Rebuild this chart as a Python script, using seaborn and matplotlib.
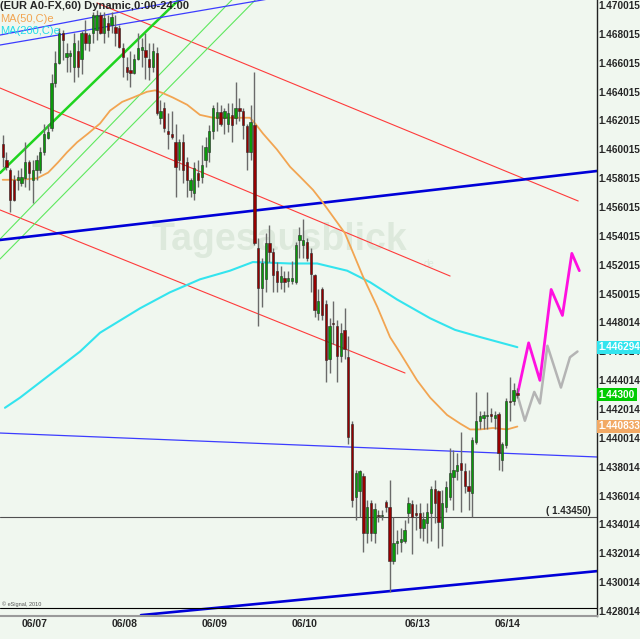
import matplotlib
matplotlib.use("Agg")
import matplotlib.pyplot as plt
import matplotlib.transforms as mtransforms
import numpy as np
import seaborn as sns

# hourly EUR/USD bars, 06/06 evening .. 06/14 morning
opens = [1.4604, 1.4593, 1.4586, 1.4579, 1.4579, 1.4577, 1.4580, 1.4591, 1.4579, 1.4586,
         1.4586, 1.4598, 1.4608, 1.4615, 1.4646, 1.4660, 1.4681, 1.4664, 1.4665, 1.4657,
         1.4668, 1.4663, 1.4681, 1.4674, 1.4681, 1.4683, 1.4693, 1.4681, 1.4688, 1.4686,
         1.4685, 1.4684, 1.4670, 1.4657, 1.4655, 1.4653, 1.4663, 1.4669, 1.4669, 1.4663,
         1.4657, 1.4667, 1.4622, 1.4629, 1.4613, 1.4611, 1.4605, 1.4593, 1.4605, 1.4591,
         1.4572, 1.4570, 1.4584, 1.4581, 1.4593, 1.4598, 1.4613, 1.4622, 1.4626, 1.4622,
         1.4618, 1.4624, 1.4622, 1.4629, 1.4627, 1.4616, 1.4598, 1.4617, 1.4532, 1.4504,
         1.4510, 1.4535, 1.4529, 1.4516, 1.4508, 1.4511, 1.4509, 1.4509, 1.4508, 1.4537,
         1.4534, 1.4536, 1.4528, 1.4513, 1.4487, 1.4503, 1.4493, 1.4455, 1.4480, 1.4478,
         1.4457, 1.4475, 1.4456, 1.4410, 1.4359, 1.4363, 1.4374, 1.4334, 1.4355, 1.4334,
         1.4347, 1.4346, 1.4356, 1.4352, 1.4315, 1.4327, 1.4328, 1.4329, 1.4348, 1.4354,
         1.4348, 1.4348, 1.4338, 1.4341, 1.4348, 1.4365, 1.4363, 1.4338, 1.4352, 1.4359,
         1.4373, 1.4377, 1.4383, 1.4377, 1.4367, 1.4362, 1.4397, 1.4412, 1.4414, 1.4415,
         1.4417, 1.4414, 1.4417, 1.4385, 1.4395, 1.4426, 1.4426, 1.4431]
highs = [1.4610, 1.4598, 1.4587, 1.4582, 1.4586, 1.4587, 1.4605, 1.4593, 1.4593, 1.4596,
         1.4602, 1.4618, 1.4618, 1.4652, 1.4668, 1.4684, 1.4683, 1.4674, 1.4669, 1.4681,
         1.4676, 1.4682, 1.4690, 1.4681, 1.4695, 1.4697, 1.4695, 1.4695, 1.4693, 1.4695,
         1.4693, 1.4686, 1.4674, 1.4664, 1.4668, 1.4666, 1.4681, 1.4677, 1.4681, 1.4674,
         1.4674, 1.4671, 1.4634, 1.4633, 1.4625, 1.4627, 1.4618, 1.4607, 1.4611, 1.4595,
         1.4580, 1.4591, 1.4593, 1.4603, 1.4609, 1.4617, 1.4631, 1.4633, 1.4631, 1.4629,
         1.4632, 1.4632, 1.4647, 1.4636, 1.4629, 1.4618, 1.4631, 1.4654, 1.4539, 1.4525,
         1.4542, 1.4548, 1.4532, 1.4522, 1.4519, 1.4516, 1.4516, 1.4523, 1.4536, 1.4546,
         1.4552, 1.4539, 1.4532, 1.4514, 1.4503, 1.4505, 1.4496, 1.4483, 1.4495, 1.4482,
         1.4480, 1.4490, 1.4471, 1.4412, 1.4378, 1.4378, 1.4376, 1.4357, 1.4357, 1.4355,
         1.4350, 1.4350, 1.4357, 1.4371, 1.4345, 1.4336, 1.4338, 1.4343, 1.4359, 1.4357,
         1.4354, 1.4355, 1.4349, 1.4355, 1.4367, 1.4371, 1.4364, 1.4364, 1.4370, 1.4393,
         1.4392, 1.4390, 1.4404, 1.4383, 1.4378, 1.4401, 1.4432, 1.4419, 1.4419, 1.4432,
         1.4421, 1.4419, 1.4418, 1.4397, 1.4428, 1.4442, 1.4438, 1.4435]
lows = [1.4588, 1.4586, 1.4557, 1.4564, 1.4572, 1.4575, 1.4574, 1.4572, 1.4563, 1.4579,
        1.4584, 1.4596, 1.4607, 1.4613, 1.4643, 1.4659, 1.4662, 1.4654, 1.4654, 1.4647,
        1.4650, 1.4652, 1.4669, 1.4668, 1.4674, 1.4676, 1.4680, 1.4674, 1.4678, 1.4681,
        1.4672, 1.4670, 1.4650, 1.4648, 1.4643, 1.4652, 1.4662, 1.4657, 1.4649, 1.4648,
        1.4654, 1.4624, 1.4618, 1.4612, 1.4600, 1.4607, 1.4567, 1.4586, 1.4577, 1.4567,
        1.4567, 1.4565, 1.4574, 1.4577, 1.4588, 1.4591, 1.4607, 1.4613, 1.4616, 1.4611,
        1.4612, 1.4605, 1.4618, 1.4620, 1.4607, 1.4586, 1.4593, 1.4534, 1.4478, 1.4491,
        1.4501, 1.4522, 1.4501, 1.4501, 1.4503, 1.4501, 1.4505, 1.4507, 1.4507, 1.4525,
        1.4525, 1.4523, 1.4501, 1.4484, 1.4482, 1.4482, 1.4439, 1.4445, 1.4465, 1.4439,
        1.4453, 1.4455, 1.4396, 1.4352, 1.4343, 1.4345, 1.4321, 1.4327, 1.4329, 1.4327,
        1.4342, 1.4343, 1.4349, 1.4293, 1.4313, 1.4320, 1.4321, 1.4327, 1.4341, 1.4320,
        1.4336, 1.4331, 1.4329, 1.4327, 1.4329, 1.4341, 1.4324, 1.4325, 1.4349, 1.4357,
        1.4350, 1.4371, 1.4349, 1.4362, 1.4350, 1.4345, 1.4396, 1.4406, 1.4406, 1.4406,
        1.4411, 1.4406, 1.4378, 1.4377, 1.4393, 1.4412, 1.4423, 1.4428]
closes = [1.4595, 1.4588, 1.4565, 1.4565, 1.4581, 1.4581, 1.4591, 1.4584, 1.4586, 1.4593,
          1.4598, 1.4611, 1.4612, 1.4646, 1.4660, 1.4681, 1.4676, 1.4667, 1.4667, 1.4674,
          1.4657, 1.4681, 1.4674, 1.4679, 1.4693, 1.4693, 1.4681, 1.4691, 1.4683, 1.4692,
          1.4681, 1.4671, 1.4664, 1.4654, 1.4653, 1.4663, 1.4670, 1.4671, 1.4664, 1.4657,
          1.4668, 1.4625, 1.4627, 1.4615, 1.4611, 1.4609, 1.4588, 1.4605, 1.4586, 1.4579,
          1.4579, 1.4587, 1.4579, 1.4589, 1.4602, 1.4613, 1.4629, 1.4626, 1.4618, 1.4627,
          1.4625, 1.4617, 1.4629, 1.4627, 1.4617, 1.4598, 1.4619, 1.4535, 1.4504, 1.4521,
          1.4535, 1.4529, 1.4513, 1.4508, 1.4512, 1.4508, 1.4511, 1.4511, 1.4534, 1.4541,
          1.4537, 1.4525, 1.4514, 1.4489, 1.4495, 1.4485, 1.4454, 1.4478, 1.4479, 1.4457,
          1.4473, 1.4462, 1.4401, 1.4357, 1.4376, 1.4377, 1.4334, 1.4352, 1.4334, 1.4351,
          1.4346, 1.4347, 1.4352, 1.4315, 1.4327, 1.4329, 1.4330, 1.4336, 1.4355, 1.4345,
          1.4347, 1.4338, 1.4344, 1.4349, 1.4365, 1.4355, 1.4342, 1.4355, 1.4366, 1.4376,
          1.4378, 1.4381, 1.4378, 1.4367, 1.4363, 1.4399, 1.4412, 1.4415, 1.4416, 1.4416,
          1.4415, 1.4416, 1.4390, 1.4396, 1.4426, 1.4425, 1.4433, 1.4430]

day_labels = ["06/07", "06/08", "06/09", "06/10", "06/13", "06/14"]
day_start = [5, 29, 53, 77, 107, 131]   # bar number of 0:00 of each day

# moving averages, sampled along the curves
ma50_bar = [0, 4.6, 9.1, 12.1, 14.7, 17.1, 19.8, 22.7, 25.9, 28.6, 31.8, 34.7, 38.4, 40.6,
            42.7, 45.3, 49.1, 52.5, 56.0, 59.7, 63.2, 65.8, 67.2, 69.3, 73.0, 76.5, 79.2,
            82.6, 85.0, 91.1, 95.9, 99.7, 103.1, 105.8, 110.3, 113.8, 118.3, 121.8, 124.4,
            127.1, 130.5, 134.3, 137]
ma50_val = [1.4579, 1.4579, 1.4580, 1.4584, 1.4591, 1.4598, 1.4605, 1.4611, 1.4618, 1.4627,
            1.4633, 1.4636, 1.4640, 1.4641, 1.4639, 1.4636, 1.4631, 1.4624, 1.4622, 1.4622,
            1.4622, 1.4622, 1.4618, 1.4611, 1.4600, 1.4588, 1.4581, 1.4572, 1.4564, 1.4542,
            1.4512, 1.4491, 1.4470, 1.4459, 1.4440, 1.4428, 1.4416, 1.4410, 1.4406, 1.4406,
            1.4407, 1.4406, 1.4408]
ma200_bar = [0.6, 4.6, 12.6, 20.6, 25.9, 36.6, 44.5, 52.5, 60.5, 66.6, 76.5, 83.7, 91.7,
             97.8, 105.0, 113.8, 120.4, 127.1, 137]
ma200_val = [1.4421, 1.4428, 1.4444, 1.4460, 1.4473, 1.4490, 1.4501, 1.4510, 1.4516, 1.4522,
             1.4521, 1.4521, 1.4516, 1.4508, 1.4496, 1.4483, 1.4475, 1.4470, 1.4463]

# drawn trend lines: (bar0, price0, bar1, price1)
red_lines = [(25.1, 1.47015, 153.2, 1.45643),
             (-0.72, 1.46426, 119.1, 1.45123),
             (-0.72, 1.45581, 107.1, 1.44451)]
blue_thick = [(-0.72, 1.45373, 158.2, 1.45851),
              (36.8, 1.42773, 158.2, 1.43078)]
blue_thin = [(-0.72, 1.46793, 57.9, 1.47085),
             (-0.72, 1.46724, 79.2, 1.47081),
             (-0.72, 1.44035, 158.2, 1.43869)]
green_thick = [(-0.72, 1.45837, 52.6, 1.47182)]
green_thin = [(-0.72, 1.45379, 65.9, 1.47168),
              (-0.72, 1.45241, 72.5, 1.47175)]

# forecast paths
path_up_bar = [137, 140, 143, 146, 149, 151.5, 153.5]
path_up_val = [1.4430, 1.4466, 1.4440, 1.4503, 1.4485, 1.4528, 1.4516]
path_alt_bar = [137, 139, 141.5, 143, 145, 148.6, 151, 153]
path_alt_val = [1.4430, 1.4412, 1.4432, 1.4424, 1.4464, 1.4435, 1.4456, 1.4460]

level = 1.43450
ytick_labels = ["1.470015", "1.468015", "1.466015", "1.464015", "1.462015", "1.460015",
                "1.458015", "1.456015", "1.454015", "1.452015", "1.450015", "1.448014",
                "1.446014", "1.444014", "1.442014", "1.440014", "1.438014", "1.436014",
                "1.434014", "1.432014", "1.430014", "1.428014"]
tags = [("1.446294", "#33e4ee"), ("1.44300", "#00cc00"), ("1.440833", "#f2a964")]

sns.set_style("white")
plt.rcParams["font.family"] = ["Liberation Sans", "DejaVu Sans"]
bg = "#f0f7ef"
axis_font = 7.2

fig = plt.figure(figsize=(6.4, 6.39), dpi=100, facecolor=bg)
ax = fig.add_axes([0, 1 - 616 / 639, 597 / 640, 616 / 639], facecolor=bg)
ax.set_xlim(-0.72, 158.2)
ax.set_ylim(1.42767, 1.47036)

# watermark
ax.text(0.468, 0.61, "Tagesausblick", transform=ax.transAxes, ha="center", va="center",
        fontsize=27, fontweight="bold", color="#dde9dc", zorder=0)
ax.text(0.71, 0.572, "de", transform=ax.transAxes, ha="left", va="center",
        fontsize=7, color="#dde9dc", zorder=0)

def draw_lines(lines, color, lw):
    for x0, y0, x1, y1 in lines:
        ax.plot([x0, x1], [y0, y1], color=color, lw=lw, zorder=2)

draw_lines(red_lines, "#ff3b3b", 0.8)
draw_lines(green_thin, "#5ee85e", 0.8)
draw_lines(green_thick, "#1fd41f", 1.8)
draw_lines(blue_thin, "#3c3cff", 0.9)
draw_lines(blue_thick, "#0000d8", 1.9)

ax.axhline(level, color="#505050", lw=0.8, zorder=2)
ax.text(144.5, level + 0.0001, "( 1.43450)", fontsize=7, fontweight="bold",
        ha="left", va="bottom", zorder=5)

sns.lineplot(x=ma200_bar, y=ma200_val, ax=ax, color="#33e4ee", lw=1.5, zorder=3)
sns.lineplot(x=ma50_bar, y=ma50_val, ax=ax, color="#f2a552", lw=1.3, zorder=3)
sns.lineplot(x=path_alt_bar, y=path_alt_val, ax=ax, color="#b4b4b4", lw=1.8, zorder=3)
sns.lineplot(x=path_up_bar, y=path_up_val, ax=ax, color="#ff10e0", lw=2.0, zorder=3)

# candles
o, h, l, c = map(np.array, (opens, highs, lows, closes))
bars = np.arange(len(o))
ax.vlines(bars, l, h, color="#6a6a6a", lw=1.0, zorder=4)
up = c >= o
body = np.abs(c - o)
solid = body >= 0.00008
ax.bar(bars[solid], body[solid], bottom=np.minimum(o, c)[solid], width=0.62,
       color=np.where(up, "#0a9a0a", "#960000")[solid], edgecolor="#2a2a2a",
       lw=0.4, zorder=5)
ax.hlines(c[~solid], bars[~solid] - 0.35, bars[~solid] + 0.35, color="#222222",
          lw=1.0, zorder=5)

# pane border above the date strip
ax.axhline(1.42822, color="black", lw=0.8, zorder=6)

# texts at top left
ax.text(0.0, 1 - 6 / 616, "(EUR A0-FX,60) Dynamic,0:00-24:00", transform=ax.transAxes,
        fontsize=8, fontweight="bold", va="center", ha="left", zorder=7)
ax.text(0.0, 1 - 19 / 616, "MA(50,C)e", transform=ax.transAxes, fontsize=8,
        color="#f2a552", va="center", ha="left", zorder=7)
ax.text(0.0, 1 - 31 / 616, "MA(200,C)e", transform=ax.transAxes, fontsize=8,
        color="#22dce8", va="center", ha="left", zorder=7)
ax.text(0.003, 1 - 604 / 616, "\u00a9 eSignal, 2010", transform=ax.transAxes,
        fontsize=4, color="#555555", va="center", ha="left", zorder=7)

# right price scale
ax.yaxis.tick_right()
ax.set_yticks([float(t) for t in ytick_labels])
ax.set_yticklabels(ytick_labels)
ax.tick_params(axis="y", length=0, pad=1.0, labelsize=axis_font)
for t in ax.get_yticklabels():
    t.set_fontweight("bold")

trans = mtransforms.blended_transform_factory(ax.transAxes, ax.transData)
for txt, col in tags:
    ax.text(1.003, float(txt), txt, transform=trans, ha="left", va="center",
            fontsize=axis_font, fontweight="bold", color="white",
            bbox=dict(boxstyle="square,pad=0.15", fc=col, ec="none"), zorder=8, clip_on=False)

# date axis
ax.set_xticks(day_start)
ax.set_xticklabels(day_labels)
ax.tick_params(axis="x", length=2, width=0.8, color="#444444", pad=2, labelsize=7.5, direction="in")
for t in ax.get_xticklabels():
    t.set_fontweight("bold")
    t.set_horizontalalignment("left")

for s in ["left", "top"]:
    ax.spines[s].set_visible(False)
ax.spines["right"].set_color("#222222")
ax.spines["right"].set_linewidth(1.0)
ax.spines["bottom"].set_color("#9a9a9a")
ax.spines["bottom"].set_linewidth(1.5)
ax.set_xlabel("")
ax.set_ylabel("")

fig.savefig("out.png", dpi=100, facecolor=bg)
